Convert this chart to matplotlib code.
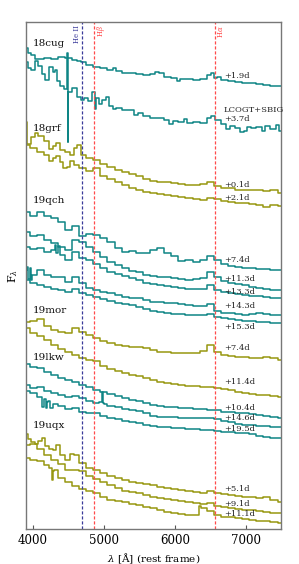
import numpy as np
import matplotlib
matplotlib.use("Agg")
import matplotlib.pyplot as plt

plt.rcParams["font.family"] = ["DejaVu Serif"]
plt.rcParams["mathtext.fontset"] = "dejavuserif"

# wavelength grid (Angstrom, rest frame)
wave = [3900, 4000, 4100, 4200, 4300, 4400, 4500, 4600, 4700, 4800, 4900, 5000,
        5100, 5200, 5300, 5400, 5500, 5600, 5700, 5800, 5900, 6000, 6100, 6200,
        6300, 6400, 6500, 6600, 6700, 6800, 6900, 7000, 7100, 7200, 7300, 7400, 7500]

# offset fluxes (arbitrary units)
cug_1p9 = [481, 474, 470, 471, 470, 472, 471, 469, 467, 464, 462, 461, 459, 458, 456, 456, 455, 454, 455,
           456, 452, 451, 450, 450, 449, 450, 454, 452, 449, 448, 447, 446, 446, 445, 444, 443, 443]
cug_1p9_extra = [(3950, 476), (4050, 470), (4650, 468), (5150, 461), (5750, 457), (6050, 448),
                 (6530, 456), (6580, 451)]
cug_3p7 = [467, 459, 463, 449, 457, 443, 437, 441, 429, 428, 431, 429, 423, 421, 419, 419, 416, 413, 411,
           411, 409, 408, 407, 406, 407, 406, 411, 409, 405, 403, 401, 398, 401, 402, 403, 400, 398]
cug_3p7_extra = [(3950, 461), (4050, 468), (4150, 455), (4250, 462), (4330, 459), (4350, 448),
                 (4470, 440), (4485, 476), (4495, 387), (4510, 437), (4650, 432), (4750, 431),
                 (4860, 437), (4880, 420), (4950, 425), (5050, 432), (5150, 420), (5450, 414),
                 (5950, 405), (6150, 410), (6530, 413), (6750, 400), (6950, 397), (7050, 402),
                 (7250, 398), (7450, 404)]
grf_0p1 = [407, 392, 393, 388, 383, 379, 377, 381, 374, 371, 369, 365, 362, 359, 357, 355, 353, 350, 348,
           347, 347, 346, 345, 344, 344, 345, 347, 343, 341, 341, 339, 339, 339, 339, 338, 339, 336]
grf_0p1_extra = [(3930, 385), (4050, 396), (4250, 380), (4350, 386), (4550, 374), (4650, 384)]
grf_2p1 = [384, 381, 377, 374, 371, 367, 362, 364, 361, 358, 361, 353, 350, 347, 344, 341, 339, 337, 336,
           335, 334, 333, 332, 331, 330, 329, 331, 330, 328, 327, 326, 326, 325, 324, 322, 324, 323]
grf_2p1_extra = [(4250, 368), (4350, 373), (4450, 361), (4550, 368)]
qch_7p4 = [317, 313, 317, 313, 311, 307, 299, 303, 293, 295, 294, 291, 287, 281, 277, 278, 276, 276, 279,
           281, 276, 273, 268, 269, 267, 269, 273, 269, 265, 263, 262, 261, 261, 260, 260, 259, 259]
qch_11p3 = [297, 293, 294, 289, 286, 282, 279, 289, 287, 282, 277, 272, 267, 264, 261, 258, 257, 254, 253,
            252, 252, 251, 250, 249, 250, 251, 257, 252, 248, 246, 245, 244, 242, 241, 240, 239, 239]
qch_13p3 = [282, 280, 281, 277, 279, 274, 269, 277, 271, 269, 265, 261, 257, 255, 253, 251, 249, 246, 245,
            244, 243, 242, 241, 240, 240, 240, 244, 239, 237, 236, 235, 234, 233, 233, 232, 231, 231]
qch_13p3_extra = [(4320, 284), (4340, 276), (4360, 283)]
qch_14p3 = [259, 254, 259, 254, 252, 252, 247, 252, 246, 241, 239, 237, 236, 234, 232, 231, 231, 229, 227,
            227, 226, 226, 225, 224, 223, 223, 225, 218, 216, 216, 215, 214, 215, 216, 215, 214, 214]
qch_14p3_extra = [(3920, 262), (3940, 250), (3960, 261), (3980, 249)]
qch_15p3 = [249, 246, 244, 242, 240, 239, 237, 240, 236, 234, 232, 230, 228, 226, 225, 224, 222, 220, 218,
            217, 216, 215, 215, 214, 214, 214, 215, 212, 211, 210, 209, 208, 208, 207, 207, 206, 206]
mor_7p4 = [207, 208, 210, 203, 199, 197, 196, 201, 197, 194, 191, 188, 186, 184, 183, 182, 182, 181, 179,
           177, 177, 176, 176, 176, 176, 178, 184, 177, 174, 173, 172, 172, 171, 171, 172, 171, 169]
mor_11p4 = [201, 196, 193, 189, 184, 180, 177, 174, 171, 169, 168, 163, 160, 158, 156, 154, 153, 151, 149,
            147, 146, 145, 144, 143, 143, 142, 142, 141, 140, 139, 137, 136, 135, 134, 134, 133, 132]
lkw_10p4 = [165, 162, 161, 157, 154, 151, 149, 147, 144, 142, 139, 137, 135, 133, 131, 129, 128, 126, 124,
            123, 122, 122, 121, 121, 120, 120, 119, 119, 117, 117, 116, 116, 115, 114, 113, 112, 111]
lkw_14p6 = [144, 141, 142, 138, 136, 134, 132, 133, 131, 128, 126, 125, 123, 122, 120, 119, 118, 116, 113,
            112, 112, 112, 111, 111, 111, 111, 111, 110, 108, 107, 105, 104, 104, 103, 103, 102, 102]
lkw_14p6_extra = [(4960, 127), (4975, 137), (4990, 126)]
lkw_19p5 = [138, 136, 132, 127, 125, 123, 120, 121, 117, 116, 116, 113, 111, 110, 108, 107, 106, 104, 103,
            102, 102, 101, 101, 100, 100, 99, 99, 98, 97, 97, 96, 96, 95, 93, 92, 91, 91]
lkw_19p5_extra = [(4150, 122), (4170, 130), (4190, 121), (4230, 128), (4250, 121)]
uqx_5p1 = [95, 87, 88, 83, 79, 74, 69, 74, 66, 61, 59, 56, 53, 51, 49, 47, 46, 45, 44,
           42, 41, 40, 39, 38, 37, 36, 38, 36, 35, 34, 33, 32, 32, 31, 32, 29, 27]
uqx_5p1_extra = [(3950, 90), (4050, 85), (4150, 91), (4250, 80), (4350, 84), (4550, 75)]
uqx_9p1 = [84, 85, 80, 74, 69, 65, 59, 59, 58, 53, 50, 47, 44, 41, 38, 37, 36, 34, 32,
           31, 30, 29, 28, 27, 26, 25, 26, 23, 22, 21, 20, 19, 19, 18, 17, 16, 16]
uqx_11p1 = [71, 69, 68, 64, 59, 51, 47, 43, 40, 38, 36, 32, 29, 28, 27, 25, 24, 22, 21,
            19, 17, 16, 15, 14, 14, 21, 18, 14, 12, 12, 11, 10, 9, 8, 8, 7, 6]
uqx_11p1_extra = [(4260, 61), (4275, 49), (4290, 58), (6330, 14), (6350, 23)]

spectra = [
    (cug_1p9, cug_1p9_extra, "teal", "+1.9d", 453),
    (cug_3p7, cug_3p7_extra, "teal", "+3.7d", 410),
    (grf_0p1, grf_0p1_extra, "olive", "+0.1d", 344),
    (grf_2p1, grf_2p1_extra, "olive", "+2.1d", 331),
    (qch_7p4, [], "teal", "+7.4d", 269),
    (qch_11p3, [], "teal", "+11.3d", 250),
    (qch_13p3, qch_13p3_extra, "teal", "+13.3d", 237),
    (qch_14p3, qch_14p3_extra, "teal", "+14.3d", 223),
    (qch_15p3, [], "teal", "+15.3d", 202),
    (mor_7p4, [], "olive", "+7.4d", 181),
    (mor_11p4, [], "olive", "+11.4d", 147),
    (lkw_10p4, [], "teal", "+10.4d", 121),
    (lkw_14p6, lkw_14p6_extra, "teal", "+14.6d", 111),
    (lkw_19p5, lkw_19p5_extra, "teal", "+19.5d", 100),
    (uqx_5p1, uqx_5p1_extra, "olive", "+5.1d", 40),
    (uqx_9p1, [], "olive", "+9.1d", 25),
    (uqx_11p1, uqx_11p1_extra, "olive", "+11.1d", 15),
]

objects = ["18cug", "18grf", "19qch", "19mor", "19lkw", "19uqx"]
object_y = [485, 401, 329, 219, 172, 104]

lines_name = ["He II", r"H$\beta$", r"H$\alpha$"]
lines_wave = [4686, 4861, 6563]
lines_color = ["#3a3a9a", "#ff4a4a", "#ff4a4a"]

colors = {"teal": "#0e8585", "olive": "#979710"}

fig = plt.figure(figsize=(2.99, 5.64), dpi=100)
ax = fig.add_axes([0.087, 0.062, 0.853, 0.899])

for flux, extra, col, lab, ly in spectra:
    pts = sorted(list(zip(wave, flux)) + list(extra))
    x = [p[0] for p in pts]
    y = [p[1] for p in pts]
    ax.plot(x, y, drawstyle="steps-mid", color=colors[col], lw=1.1)
    ax.text(6690, ly, lab, fontsize=6.0, va="center", ha="left", color="#222222")

ax.text(6690, 419, "LCOGT+SBIG", fontsize=6.0, va="center", ha="left", color="#222222")

for name, yy in zip(objects, object_y):
    ax.text(4000, yy, name, fontsize=7.5, va="center", ha="left", color="#111111")

for name, w, c in zip(lines_name, lines_wave, lines_color):
    ax.axvline(w, color=c, lw=0.9, ls=(0, (2.5, 1.5)))
    if name == "He II":
        ax.text(w - 15, 504, name, rotation=90, fontsize=5, color=c, ha="right", va="top")
    else:
        ax.text(w + 15, 504, name, rotation=90, fontsize=5, color=c, ha="left", va="top")

ax.set_xlim(3900, 7500)
ax.set_ylim(0, 507)
ax.set_yticks([])
ax.set_xticks([4000, 5000, 6000, 7000])
ax.tick_params(axis="x", direction="in", length=3, labelsize=8.5, width=0.8, color="#555555")
for s in ax.spines.values():
    s.set_color("#777777")
    s.set_linewidth(1.0)
ax.set_xlabel(r"$\lambda$ [Å] (rest frame)", fontsize=7.5, labelpad=3)
ax.set_ylabel(r"F$_\lambda$", fontsize=8, labelpad=4)

fig.savefig("out.png", dpi=100)
